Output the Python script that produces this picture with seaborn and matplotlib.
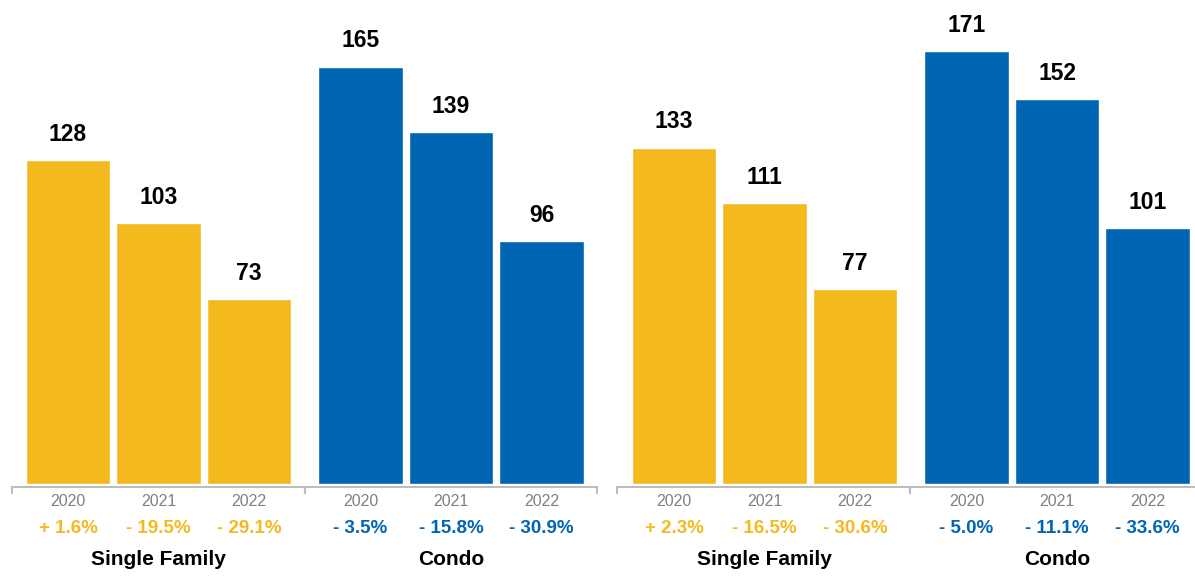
import matplotlib
matplotlib.use("Agg")
import matplotlib.pyplot as plt
import seaborn as sns
import pandas as pd

# Data
years = ["2020", "2021", "2022"]
group_names = ["Single Family", "Condo", "Single Family", "Condo"]
sf_left = [128, 103, 73]
condo_left = [165, 139, 96]
sf_right = [133, 111, 77]
condo_right = [171, 152, 101]
chg_sf_left = ["+ 1.6%", "- 19.5%", "- 29.1%"]
chg_condo_left = ["- 3.5%", "- 15.8%", "- 30.9%"]
chg_sf_right = ["+ 2.3%", "- 16.5%", "- 30.6%"]
chg_condo_right = ["- 5.0%", "- 11.1%", "- 33.6%"]

YELLOW = "#F3B91D"
BLUE = "#0065B3"
GRAY = "#BDBDBD"

sns.set_theme(style="white")
plt.rcParams["font.family"] = ["Liberation Sans", "DejaVu Sans"]

W, H = 1195, 576
fig = plt.figure(figsize=(W / 100, H / 100), dpi=100)

BASE = 484          # pixel row of the bar baseline
PITCH = 90.5        # pixels between neighbouring bars
YMAX = BASE / 2.53  # value range shown above the baseline

# (left px, right px, first bar centre px) of each group bracket
layout = [(12, 305, 68), (305, 597, 360.5), (617, 910, 674), (910, 1203, 966.5)]
series = [sf_left, condo_left, sf_right, condo_right]
changes = [chg_sf_left, chg_condo_left, chg_sf_right, chg_condo_right]
colors = [YELLOW, BLUE, YELLOW, BLUE]

for (l, r, c0), vals, chg, col, name in zip(layout, series, changes, colors, group_names):
    ax = fig.add_axes([l / W, (H - BASE) / H, (r - l) / W, BASE / H])
    df = pd.DataFrame({"year": years, "value": vals})
    sns.barplot(data=df, x="year", y="value", color=col, saturation=1,
                width=0.93, ax=ax, errorbar=None)
    lo, hi = (l - c0) / PITCH, (r - c0) / PITCH
    ax.set_xlim(lo, hi)
    ax.set_ylim(0, YMAX)
    ax.bar_label(ax.containers[0], labels=[str(v) for v in vals], padding=10.5,
                 fontsize=16.5, fontweight="bold", color="black")

    for s in ["top", "right", "left"]:
        ax.spines[s].set_visible(False)
    ax.spines["bottom"].set_color(GRAY)
    ax.spines["bottom"].set_linewidth(1.5)
    ax.spines["bottom"].set_position(("outward", 2))
    ax.set_yticks([])
    ax.set_xlabel("")
    ax.set_ylabel("")
    ax.tick_params(axis="x", which="major", length=0, pad=5,
                   labelsize=11.5, labelcolor="#808080")
    ax.set_xticks([lo, hi], minor=True)
    ax.tick_params(axis="x", which="minor", length=5, width=1.5,
                   color=GRAY, direction="out", bottom=True)

    for i, t in enumerate(chg):
        ax.annotate(t, xy=(i, 0), xycoords=("data", "axes fraction"),
                    xytext=(0, -35), textcoords="offset points",
                    ha="center", va="baseline", fontsize=13.5,
                    fontweight="bold", color=col)
    ax.annotate(name, xy=(1, 0), xycoords=("data", "axes fraction"),
                xytext=(0, -58.5), textcoords="offset points",
                ha="center", va="baseline", fontsize=15,
                fontweight="bold", color="black")

fig.savefig("out.png", dpi=100)
